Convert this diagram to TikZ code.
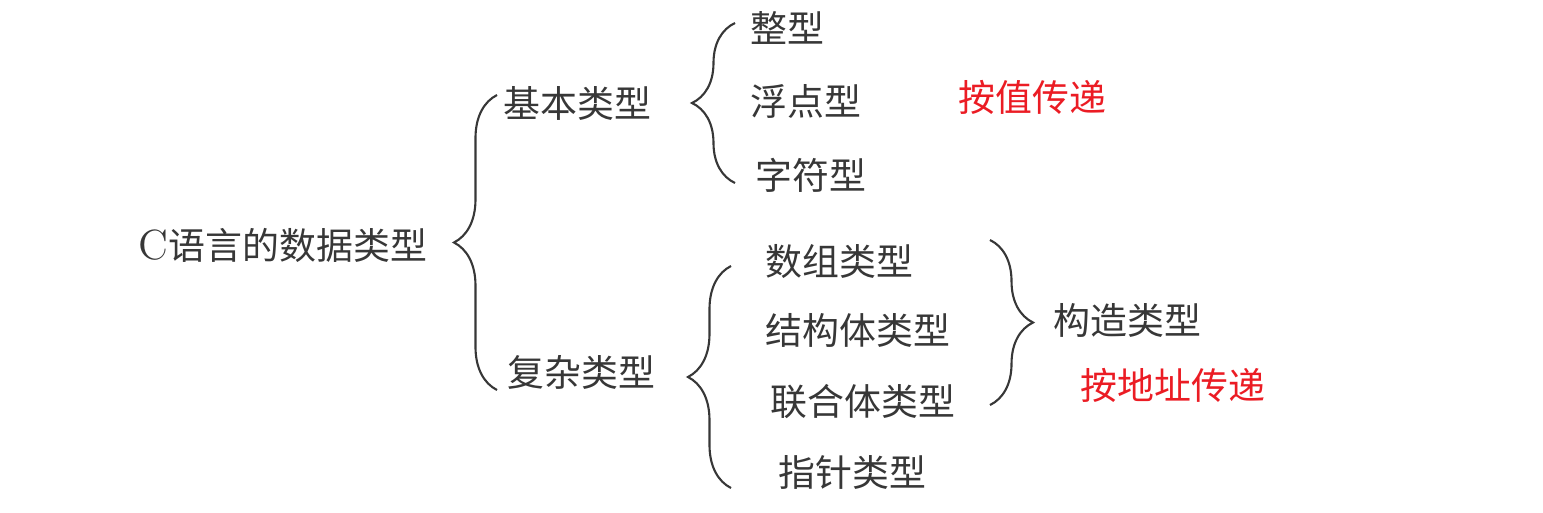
\documentclass[tikz,border=0pt]{standalone}
\usepackage{fontspec}
\newfontfamily\cjk{Noto Sans CJK SC}
\usetikzlibrary{decorations.pathreplacing}
\definecolor{inkgray}{RGB}{55,55,55}
\definecolor{notered}{RGB}{235,28,36}
\tikzstyle{item} = [anchor=west, inner sep=0pt, text=inkgray, font=\cjk\fontsize{10.5}{12}\selectfont]
\tikzstyle{note} = [item, text=notered]
\tikzstyle{brc} = [draw=inkgray, line width=0.6pt, decorate, decoration={brace, amplitude=0.43cm}]

\begin{document}
\begin{tikzpicture}[x=0.01cm, y=-0.01cm]
\useasboundingbox (0,0) rectangle (1543,512);

\node (root) [item] at (138,245) {{\rmfamily\fontsize{12}{12}\selectfont C}语言的数据类型};

\node (jiben) [item] at (503,103) {基本类型};
\node (fuza) [item] at (507,372) {复杂类型};

\node (zheng) [item] at (750,28) {整型};
\node (fudian) [item] at (750,101) {浮点型};
\node (zifu) [item] at (755,175) {字符型};
\node (anzhi) [note] at (958,97) {按值传递};

\node (shuzu) [item] at (765,262) {数组类型};
\node (jiegou) [item] at (765,330) {结构体类型};
\node (lianhe) [item] at (770,402) {联合体类型};
\node (zhizhen) [item] at (778,472) {指针类型};

\node (gouzao) [item] at (1053,320) {构造类型};
\node (andizhi) [note] at (1080,385) {按地址传递};

% braces
\coordinate (b0s) at (497,390);
\coordinate (b0e) at (497,95);
\coordinate (b1s) at (735,183);
\coordinate (b1e) at (735,23);
\coordinate (b2s) at (731,488);
\coordinate (b2e) at (731,266);
\coordinate (b3s) at (990,240);
\coordinate (b3e) at (990,405);

\draw [brc] (b0s) -- (b0e);
\draw [brc] (b1s) -- (b1e);
\draw [brc] (b2s) -- (b2e);
\draw [brc] (b3s) -- (b3e);
\end{tikzpicture}
\end{document}
